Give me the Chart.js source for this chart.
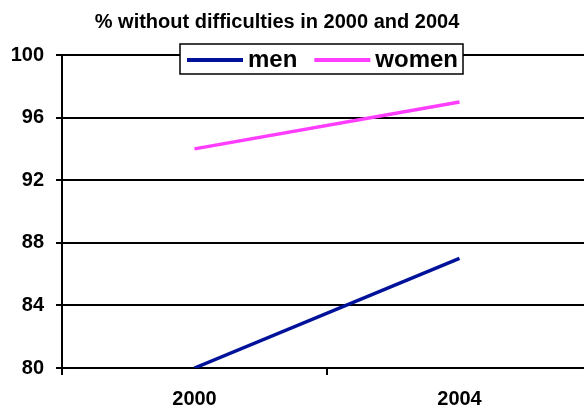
<!DOCTYPE html>
<html>
<head>
<meta charset="utf-8">
<script src="https://cdn.jsdelivr.net/npm/chart.js@4/dist/chart.umd.min.js"></script>
<style>
  html, body { margin: 0; padding: 0; overflow: hidden; background: #fff; }
  #wrap { width: 584px; height: 407px; overflow: hidden; }
</style>
</head>
<body>
<div id="wrap"><canvas id="chart_canvas" width="592" height="423"></canvas></div>
<script>
// Chart values
var years = ['2000', '2004'];
var men = [80, 87];
var women = [94, 97];
var title_text = '% without difficulties in 2000 and 2004';

var font_family = '"Liberation Sans", Arial, sans-serif';

// Draws the title and a boxed legend that sits over the top of the plot
var overlay_plugin = {
    id: 'overlay',
    afterDraw: function (chart) {
        var ctx = chart.ctx;
        ctx.save();
        ctx.fillStyle = '#000';
        ctx.font = 'bold 20px ' + font_family;
        ctx.textAlign = 'center';
        ctx.textBaseline = 'middle';
        ctx.fillText(title_text, 277, 22);

        // legend box
        var box_x = 180, box_y = 44, box_w = 283, box_h = 30;
        ctx.fillStyle = '#fff';
        ctx.fillRect(box_x, box_y, box_w, box_h);
        ctx.strokeStyle = '#000';
        ctx.lineWidth = 1.5;
        ctx.strokeRect(box_x, box_y, box_w, box_h);

        var x = box_x + 7;
        var y = box_y + box_h / 2 + 1;
        ctx.font = 'bold 24px ' + font_family;
        ctx.textAlign = 'left';
        chart.data.datasets.forEach(function (ds) {
            ctx.strokeStyle = ds.borderColor;
            ctx.lineWidth = 4;
            ctx.beginPath();
            ctx.moveTo(x, y);
            ctx.lineTo(x + 56, y);
            ctx.stroke();
            ctx.fillStyle = '#000';
            ctx.fillText(ds.label, x + 61, y);
            x += 61 + ctx.measureText(ds.label).width + 17;
        });
        ctx.restore();
    }
};

var context = document.getElementById('chart_canvas').getContext('2d');

var line_chart = new Chart(context, {
    type: 'line',
    data: {
        labels: years,
        datasets: [{
            label: 'men',
            data: men,
            borderColor: '#00129a',
            borderWidth: 3.5,
            pointRadius: 0,
            tension: 0
        }, {
            label: 'women',
            data: women,
            borderColor: '#ff3dff',
            borderWidth: 3.5,
            pointRadius: 0,
            tension: 0
        }]
    },
    options: {
        responsive: false,
        animation: false,
        layout: { padding: { top: 55, right: 0, bottom: 0, left: 0 } },
        plugins: {
            legend: { display: false },
            title: { display: false },
            tooltip: { enabled: false }
        },
        scales: {
            x: {
                offset: true,
                grid: {
                    offset: true,
                    drawOnChartArea: false,
                    color: '#000',
                    lineWidth: 2,
                    tickLength: 7
                },
                border: { color: '#000', width: 2 },
                ticks: {
                    color: '#000',
                    font: { family: font_family, size: 20, weight: 'bold' },
                    padding: 12
                }
            },
            y: {
                min: 80,
                max: 100,
                ticks: {
                    stepSize: 4,
                    color: '#000',
                    font: { family: font_family, size: 20, weight: 'bold' },
                    padding: 12
                },
                grid: {
                    color: '#000',
                    lineWidth: 2,
                    tickLength: 6
                },
                border: { color: '#000', width: 2 },
                afterFit: function (scale) { scale.width = 62; }
            }
        }
    },
    plugins: [overlay_plugin]
});
</script>
</body>
</html>
